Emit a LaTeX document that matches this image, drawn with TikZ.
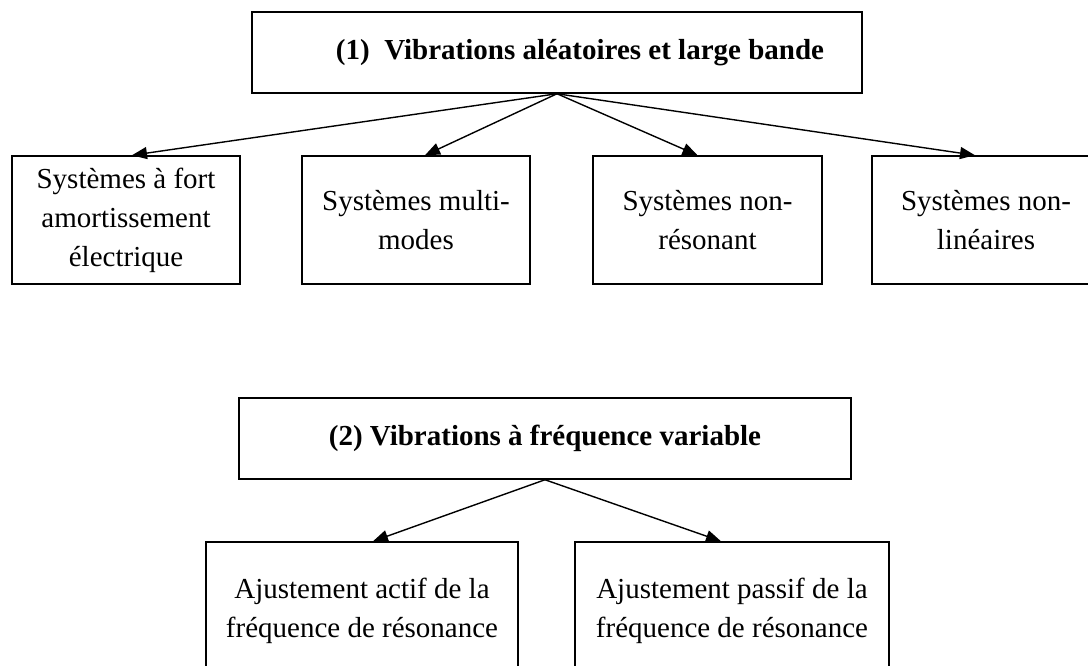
\documentclass[tikz,border=0pt]{standalone}
\usepackage{fontspec}
\setmainfont{Liberation Serif}
\usetikzlibrary{arrows.meta,calc}
\begin{document}
\begin{tikzpicture}[x=1pt,y=-1pt,
  box/.style={draw,line width=1.5pt,inner sep=0pt,align=center,
    font=\fontsize{29}{39}\selectfont},
  head/.style={box,font=\bfseries\fontsize{29}{39}\selectfont},
  conn/.style={line width=1.4pt,-{Triangle[length=15pt,width=12pt]}}]
\useasboundingbox (0,0) rectangle (1088,666);
\clip (0,0) rectangle (1088,666);
% section 1
\node[head,minimum width=610pt,minimum height=81pt] (t1) at (557,52.5)
  {\hspace{46pt}(1)\ \ Vibrations aléatoires et large bande};
\node[box,minimum width=228pt,minimum height=128pt] (b1) at (126,220)
  {Systèmes à fort\\amortissement\\électrique};
\node[box,minimum width=228pt,minimum height=128pt] (b2) at (416,220)
  {Systèmes multi-\\modes};
\node[box,minimum width=229pt,minimum height=128pt] (b3) at (707.5,220)
  {Systèmes non-\\résonant};
\node[box,minimum width=228pt,minimum height=128pt] (b4) at (986,220)
  {Systèmes non-\\linéaires};
\draw[conn] (t1.south) -- ($(b1.north)+(6,0)$);
\draw[conn] (t1.south) -- ($(b2.north)+(9,0)$);
\draw[conn] (t1.south) -- ($(b3.north)+(-10,0)$);
\draw[conn] (t1.south) -- ($(b4.north)+(-11,0)$);
% section 2
\node[head,minimum width=612pt,minimum height=81pt] (t2) at (545,438.5)
  {(2) Vibrations à fréquence variable};
\node[box,minimum width=312pt,minimum height=138pt] (a1) at (362,611)
  {Ajustement actif de la\\fréquence de résonance};
\node[box,minimum width=314pt,minimum height=138pt] (a2) at (732,611)
  {Ajustement passif de la\\fréquence de résonance};
\draw[conn] (t2.south) -- ($(a1.north)+(11,0)$);
\draw[conn] (t2.south) -- ($(a2.north)+(-11,0)$);
\end{tikzpicture}
\end{document}
